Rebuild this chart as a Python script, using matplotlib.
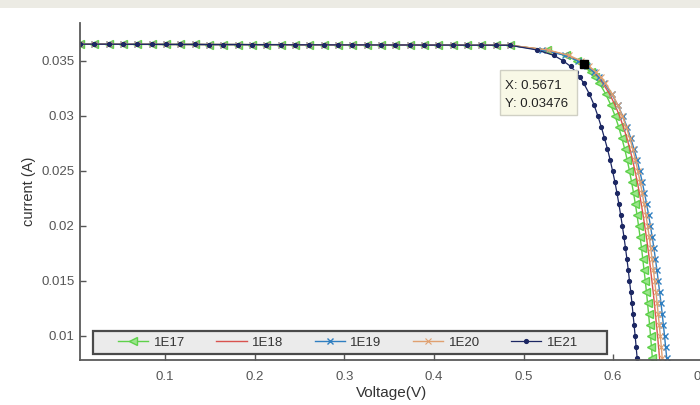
import numpy as np
import matplotlib.pyplot as plt
from matplotlib.patches import Rectangle

plt.rcParams['font.family'] = ['Liberation Sans', 'DejaVu Sans']

# flat part, shared by all doping levels
v_flat = [0.005, 0.021, 0.037, 0.053, 0.069, 0.085, 0.101, 0.117, 0.133, 0.149, 0.165,
          0.181, 0.197, 0.213, 0.229, 0.245, 0.261, 0.277, 0.293, 0.309, 0.325, 0.341,
          0.357, 0.373, 0.389, 0.405, 0.421, 0.437, 0.453, 0.469, 0.485]
i_flat = [0.03652, 0.03652, 0.03652, 0.03651, 0.03651, 0.03651, 0.03650, 0.03650, 0.03650,
          0.03649, 0.03649, 0.03649, 0.03648, 0.03648, 0.03648, 0.03647, 0.03647, 0.03647,
          0.03646, 0.03646, 0.03646, 0.03645, 0.03645, 0.03645, 0.03644, 0.03644, 0.03644,
          0.03643, 0.03643, 0.03643, 0.03642]

# knee / falling part: current levels and voltage of each curve
i_knee = [0.0360, 0.0355, 0.0350, 0.0345, 0.0340, 0.0335, 0.0330, 0.0320, 0.0310, 0.0300,
          0.0290, 0.0280, 0.0270, 0.0260, 0.0250, 0.0240, 0.0230, 0.0220, 0.0210, 0.0200,
          0.0190, 0.0180, 0.0170, 0.0160, 0.0150, 0.0140, 0.0130, 0.0120, 0.0110, 0.0100,
          0.0090, 0.0080, 0.0070]
v_1e17 = [0.5258, 0.5477, 0.5599, 0.5683, 0.5748, 0.5801, 0.5845, 0.5917, 0.5974, 0.6022,
          0.6062, 0.6097, 0.6129, 0.6157, 0.6183, 0.6206, 0.6228, 0.6248, 0.6267, 0.6284,
          0.6301, 0.6317, 0.6331, 0.6345, 0.6359, 0.6372, 0.6384, 0.6396, 0.6407, 0.6418,
          0.6428, 0.6438, 0.6448]
v_1e18 = [0.5254, 0.5489, 0.5619, 0.5709, 0.5779, 0.5835, 0.5883, 0.5960, 0.6021, 0.6072,
          0.6115, 0.6153, 0.6187, 0.6217, 0.6244, 0.6270, 0.6293, 0.6314, 0.6334, 0.6353,
          0.6371, 0.6388, 0.6404, 0.6419, 0.6433, 0.6447, 0.6460, 0.6472, 0.6484, 0.6496,
          0.6507, 0.6518, 0.6528]
v_1e19 = [0.5207, 0.5466, 0.5609, 0.5708, 0.5785, 0.5847, 0.5899, 0.5984, 0.6051, 0.6107,
          0.6155, 0.6196, 0.6233, 0.6267, 0.6297, 0.6325, 0.6350, 0.6374, 0.6396, 0.6417,
          0.6436, 0.6455, 0.6472, 0.6489, 0.6504, 0.6519, 0.6534, 0.6548, 0.6561, 0.6574,
          0.6586, 0.6598, 0.6609]
v_1e20 = [0.5270, 0.5510, 0.5642, 0.5735, 0.5806, 0.5863, 0.5912, 0.5990, 0.6052, 0.6103,
          0.6147, 0.6185, 0.6219, 0.6249, 0.6276, 0.6302, 0.6325, 0.6346, 0.6366, 0.6385,
          0.6403, 0.6419, 0.6435, 0.6450, 0.6464, 0.6478, 0.6491, 0.6503, 0.6515, 0.6527,
          0.6538, 0.6548, 0.6558]
v_1e21 = [0.5150, 0.5340, 0.5445, 0.5525, 0.5585, 0.5630, 0.5670, 0.5735, 0.5787, 0.5830,
          0.5868, 0.5903, 0.5937, 0.5967, 0.5994, 0.6020, 0.6043, 0.6064, 0.6084, 0.6103,
          0.6121, 0.6138, 0.6154, 0.6169, 0.6183, 0.6197, 0.6210, 0.6222, 0.6234, 0.6246,
          0.6257, 0.6268, 0.6278]

labels = ['1E17', '1E18', '1E19', '1E20', '1E21']
tip_x, tip_y = 0.5671, 0.03476

fig = plt.figure(figsize=(7, 4.05), dpi=100)
ax = fig.add_axes([80/700, 45/405, 622.7/700, 337/405])

styles = [
    dict(color='#5ed14a', marker='<', ms=5.5, mfc='#9be58c', mec='#5ed14a', lw=1.0),
    dict(color='#d9534f', marker='', lw=1.0),
    dict(color='#2f7fc1', marker='x', ms=4.5, mew=1.0, lw=1.0),
    dict(color='#e0a070', marker='x', ms=4, mew=0.8, lw=1.0),
    dict(color='#1c2763', marker='.', ms=5.5, lw=0.9),
]
series = [v_1e17, v_1e18, v_1e19, v_1e20, v_1e21]
handles = []
for v, st, lab in zip(series, styles, labels):
    h, = ax.plot(v_flat + v, i_flat + i_knee, label=lab, **st)
    handles.append(h)

ax.set_xlim(0.005, 0.7)
ax.set_ylim(0.0078, 0.03845)
ax.set_xticks([0.1, 0.2, 0.3, 0.4, 0.5, 0.6, 0.7])
ax.set_xticklabels(['0.1', '0.2', '0.3', '0.4', '0.5', '0.6', '0.7'])
ax.set_yticks([0.01, 0.015, 0.02, 0.025, 0.03, 0.035])
ax.set_yticklabels(['0.01', '0.015', '0.02', '0.025', '0.03', '0.035'])
ax.tick_params(direction='in', length=4, width=1, colors='#555555', labelsize=9.5)
ax.tick_params(axis='x', pad=8)
ax.tick_params(axis='y', pad=4)
for s in ['top', 'right']:
    ax.spines[s].set_visible(False)
for s in ['left', 'bottom']:
    ax.spines[s].set_color('#5a5a5a')
    ax.spines[s].set_linewidth(1.3)
ax.set_xlabel('Voltage(V)', fontsize=11, color='#333333', labelpad=2)
ax.set_ylabel('current (A)', fontsize=10.5, color='#333333', labelpad=4)

# data tip
ax.plot([tip_x], [tip_y], 's', color='black', ms=6, zorder=10)
ax.add_patch(Rectangle((0.4743, 0.03009), 0.0859, 0.00409, facecolor='#f8f8e6',
                       edgecolor='#d0d0c4', lw=1, zorder=9))
ax.text(0.4790, 0.03273, 'X: 0.5671', fontsize=9.5, color='#222222', va='center', zorder=11)
ax.text(0.4790, 0.03109, 'Y: 0.03476', fontsize=9.5, color='#222222', va='center', zorder=11)

# legend box
fig.add_artist(Rectangle((93/700, 51/405), 514/700, 23/405, transform=fig.transFigure,
                         facecolor='#ebebeb', edgecolor='#4a4a4a', lw=1.6, zorder=5))
fig.legend(handles, labels, loc='center', bbox_to_anchor=(118/700, 51/405, 460/700, 23/405),
           bbox_transform=fig.transFigure, mode='expand', ncol=5, frameon=False,
           borderpad=0, borderaxespad=0, handlelength=2.3, handletextpad=0.4,
           fontsize=9.5, labelcolor='#333333').set_zorder(6)

# gray strip at the top
fig.add_artist(Rectangle((0, 1 - 8/405), 1, 8/405, transform=fig.transFigure,
                         facecolor='#ecebe4', edgecolor='none', zorder=0))

fig.savefig('out.png', dpi=100)
